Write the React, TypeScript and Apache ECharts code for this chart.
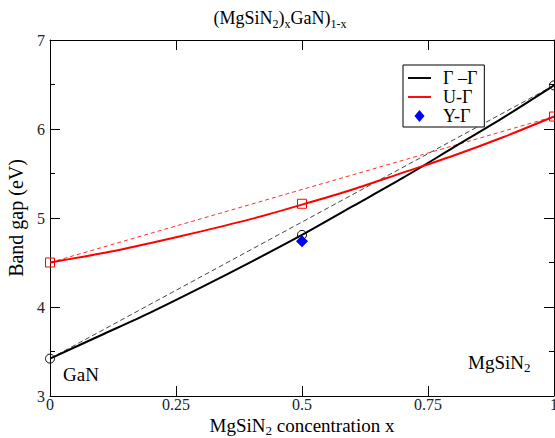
import React, { useEffect, useRef } from 'react';
import * as echarts from 'echarts';

// ---- data ----
const xGrid = [0, 0.1, 0.2, 0.3, 0.4, 0.5, 0.6, 0.7, 0.8, 0.9, 1];
const gammaGamma = [3.42, 3.68, 3.94, 4.22, 4.51, 4.81, 5.13, 5.45, 5.79, 6.13, 6.49];
const uGamma = [4.5, 4.6, 4.72, 4.85, 4.99, 5.15, 5.32, 5.51, 5.7, 5.91, 6.14];
const computedX = [0, 0.5, 1];
const gammaGammaPts = [3.42, 4.81, 6.49];
const uGammaPts = [4.5, 5.16, 6.14];
const yGammaX = [0.5];
const yGammaPts = [4.74];
const endX = [0, 1];
const gammaGammaLinear = [3.42, 6.49];
const uGammaLinear = [4.5, 6.14];
const seriesNames = ['Γ –Γ', 'U-Γ', 'Y-Γ'];
const xTickLabels: Record<string, string> = { '0': '0', '0.25': '0.25', '0.5': '0.5', '0.75': '0.75', '1': '1' };

const FONT = 'Liberation Serif';
const LINE_ICON = 'path://M0,0 L24,0 L24,2 L0,2 Z';
const DIAMOND_ICON = 'path://M5,0 L10,6 L5,12 L0,6 Z';
const pair = (xs: number[], ys: number[]) => xs.map((x, i) => [x, ys[i]]);

export default function App() {
  const ref = useRef<HTMLDivElement>(null);
  useEffect(() => {
    if (!ref.current) return;
    const chart = echarts.init(ref.current, undefined, { renderer: 'svg' });
    const axisLine = { show: true, onZero: false, lineStyle: { color: '#000', width: 1 } };
    const tick = { show: true, inside: true, length: 10, lineStyle: { color: '#000', width: 1 } };
    const minor = { show: true, splitNumber: 2, length: 5, lineStyle: { color: '#000', width: 1 } };
    chart.setOption({
      animation: false,
      backgroundColor: '#fff',
      grid: { left: 50, right: 1, top: 40, bottom: 42, outerBoundsMode: 'none', containLabel: false },
      legend: {
        data: [
          { name: seriesNames[0], icon: LINE_ICON },
          { name: seriesNames[1], icon: LINE_ICON },
          { name: seriesNames[2], icon: DIAMOND_ICON },
        ],
        orient: 'vertical',
        left: 403,
        top: 65,
        backgroundColor: '#fff',
        borderColor: '#000',
        borderWidth: 1,
        borderRadius: 0,
        padding: [4, 7, 2, 5],
        itemGap: 1,
        itemWidth: 23,
        itemHeight: 12,
        symbolKeepAspect: true,
        selectedMode: false,
        textStyle: { fontFamily: FONT, fontSize: 18, color: '#000', lineHeight: 18, padding: [0, 0, 0, 7] },
      },
      xAxis: [
        {
          type: 'value', min: 0, max: 1, interval: 0.25, position: 'bottom',
          axisLine, axisTick: tick, splitLine: { show: false },
          axisLabel: {
            fontFamily: FONT, fontSize: 16, color: '#222', margin: 0,
            formatter: (v: number) => xTickLabels[String(v)] ?? String(v),
          },
          name: 'MgSiN{s|2} concentration x',
          nameLocation: 'middle',
          nameGap: 19,
          nameMoveOverlap: false,
          nameTextStyle: {
            fontFamily: FONT, fontSize: 19, color: '#000', lineHeight: 20,
            rich: { s: { fontFamily: FONT, fontSize: 13, color: '#000', lineHeight: 20, padding: [10, 0, 0, 0] } },
          },
        },
        {
          type: 'value', min: 0, max: 1, interval: 0.25, position: 'top',
          axisLine, axisTick: tick, axisLabel: { show: false }, splitLine: { show: false },
        },
      ],
      yAxis: [
        {
          type: 'value', min: 3, max: 7, interval: 1, position: 'left',
          axisLine, axisTick: tick, minorTick: minor,
          splitLine: { show: false }, minorSplitLine: { show: false },
          axisLabel: { fontFamily: FONT, fontSize: 16, color: '#222', margin: 5 },
          name: 'Band gap (eV)', nameLocation: 'middle', nameGap: 24, nameMoveOverlap: false,
          nameTextStyle: { fontFamily: FONT, fontSize: 20, color: '#000' },
        },
        {
          type: 'value', min: 3, max: 7, interval: 1, position: 'right',
          axisLine, axisTick: tick, minorTick: minor,
          splitLine: { show: false }, minorSplitLine: { show: false },
          axisLabel: { show: false },
        },
      ],
      graphic: [
        {
          type: 'text', x: 280, y: 18, silent: true,
          style: {
            text: '(MgSiN{s|2}){s|x}GaN){s|1-x}',
            fontFamily: FONT, fontSize: 18, fill: '#000', align: 'center', verticalAlign: 'middle', lineHeight: 20,
            rich: { s: { fontFamily: FONT, fontSize: 12, fill: '#000', lineHeight: 20, padding: [11, 0, 0, 0] } },
          },
        },
        {
          type: 'text', x: 63, y: 374, silent: true,
          style: { text: 'GaN', fontFamily: FONT, fontSize: 19, fill: '#000', verticalAlign: 'middle' },
        },
        {
          type: 'text', x: 468, y: 362, silent: true,
          style: {
            text: 'MgSiN{s|2}',
            fontFamily: FONT, fontSize: 19, fill: '#000', verticalAlign: 'middle', lineHeight: 20,
            rich: { s: { fontFamily: FONT, fontSize: 13, fill: '#000', lineHeight: 20, padding: [11, 0, 0, 0] } },
          },
        },
      ],
      series: [
        {
          name: 'Γ –Γ linear', type: 'line', data: pair(endX, gammaGammaLinear), symbol: 'none',
          lineStyle: { color: '#444', width: 1, type: [5, 3] }, z: 2, silent: true,
        },
        {
          name: 'U-Γ linear', type: 'line', data: pair(endX, uGammaLinear), symbol: 'none',
          lineStyle: { color: '#ff3030', width: 1, type: [4, 3] }, z: 2, silent: true,
        },
        {
          name: seriesNames[0], type: 'line', data: pair(xGrid, gammaGamma), smooth: 0.3, symbol: 'none',
          lineStyle: { color: '#000', width: 2 }, itemStyle: { color: '#000' }, z: 3, silent: true,
        },
        {
          name: seriesNames[1], type: 'line', data: pair(xGrid, uGamma), smooth: 0.3, symbol: 'none',
          lineStyle: { color: '#ff0000', width: 2 }, itemStyle: { color: '#ff0000' }, z: 3, silent: true,
        },
        {
          name: 'Γ –Γ computed', type: 'scatter', data: pair(computedX, gammaGammaPts), symbol: 'circle', symbolSize: 9,
          itemStyle: { color: 'rgba(0,0,0,0)', borderColor: '#000', borderWidth: 1, opacity: 1 }, z: 4, silent: true,
        },
        {
          name: 'U-Γ computed', type: 'scatter', data: pair(computedX, uGammaPts), symbol: 'rect', symbolSize: 9,
          itemStyle: { color: 'rgba(0,0,0,0)', borderColor: '#ff0000', borderWidth: 1, opacity: 1 }, z: 4, silent: true,
        },
        {
          name: seriesNames[2], type: 'scatter', data: pair(yGammaX, yGammaPts), symbol: 'diamond', symbolSize: 12,
          itemStyle: { color: '#0000ff', opacity: 1 }, z: 5, silent: true,
        },
      ],
    });
    return () => chart.dispose();
  }, []);
  return <div ref={ref} style={{ position: 'fixed', left: 0, top: 0, width: 555, height: 438 }} />;
}
